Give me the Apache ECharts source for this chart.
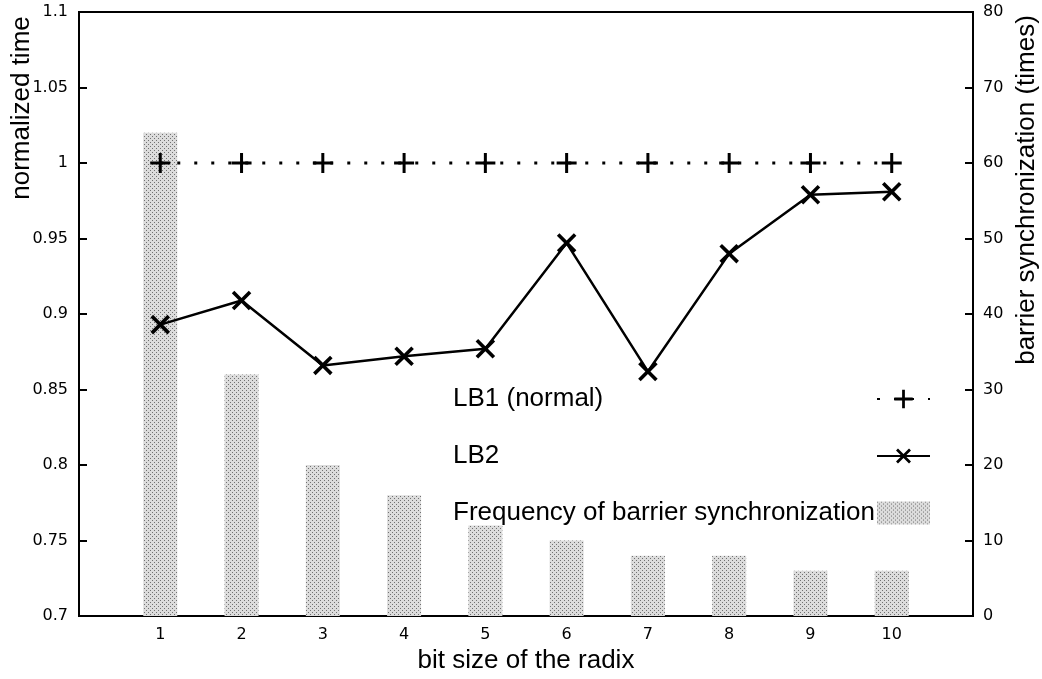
<!DOCTYPE html>
<html>
<head>
<meta charset="utf-8">
<script src="https://cdn.jsdelivr.net/npm/echarts@6/dist/echarts.min.js"></script>
<style>
  html, body { margin: 0; padding: 0; background: #fff; }
  #chart { width: 1042px; height: 679px; }
</style>
</head>
<body>
<div id="chart"></div>
<script>
// bit size of the radix
const radix = [1, 2, 3, 4, 5, 6, 7, 8, 9, 10];
const lb1 = [1, 1, 1, 1, 1, 1, 1, 1, 1, 1];
const lb2 = [0.893, 0.909, 0.866, 0.872, 0.877, 0.947, 0.862, 0.940, 0.979, 0.981];
const barrierFreq = [64, 32, 20, 16, 12, 10, 8, 8, 6, 6];

// stipple pattern for the bars
function makeStipple() {
  const c = document.createElement('canvas');
  c.width = 4; c.height = 4;
  const g = c.getContext('2d');
  g.fillStyle = '#dcdcdc';
  g.fillRect(0, 0, 4, 4);
  g.fillStyle = '#707070';
  g.fillRect(0, 0, 1, 1);
  g.fillRect(2, 2, 1, 1);
  return c;
}
const stipple = { image: makeStipple(), repeat: 'repeat' };

const plusPath = 'path://M8.5,0h3v8.5h8.5v3h-8.5v8.5h-3v-8.5h-8.5v-3h8.5z';
const titleFont = 'Liberation Sans';
const tickFont = 'DejaVu Sans';

const chart = echarts.init(document.getElementById('chart'));

const option = {
  animation: false,
  textStyle: { fontFamily: titleFont },
  grid: {
    left: 79, right: 69, top: 12, bottom: 59,
    show: true, borderColor: '#000', borderWidth: 2
  },
  legend: {
    orient: 'vertical',
    left: 453,
    top: 386,
    padding: 0,
    align: 'right',
    itemGap: 31,
    itemWidth: 53,
    itemHeight: 23,
    selectedMode: false,
    formatter: name => '{t|' + name + '}',
    textStyle: {
      fontFamily: titleFont, fontSize: 26, color: '#000',
      rich: {
        t: { width: 419, height: 28, align: 'left', fontSize: 26, fontFamily: titleFont, color: '#000' }
      }
    },
    data: [
      { name: 'LB1 (normal)' },
      { name: 'LB2' },
      { name: 'Frequency of barrier synchronization', icon: 'rect' }
    ]
  },
  xAxis: {
    type: 'value',
    min: 0, max: 11, interval: 1,
    name: 'bit size of the radix',
    nameLocation: 'middle',
    nameGap: 28,
    nameTextStyle: { fontFamily: titleFont, fontSize: 26, color: '#000', verticalAlign: 'top' },
    axisLine: { lineStyle: { color: '#000', width: 2 } },
    axisTick: { inside: true, length: 8, lineStyle: { color: '#000', width: 2 } },
    axisLabel: {
      color: '#000', fontSize: 16, fontFamily: tickFont, margin: 11,
      formatter: v => (v >= 1 && v <= 10 ? String(v) : '')
    },
    splitLine: { show: false }
  },
  yAxis: [
    {
      type: 'value',
      min: 0.7, max: 1.1, interval: 0.05,
      axisLine: { show: true, lineStyle: { color: '#000', width: 2 } },
      axisTick: { inside: true, length: 8, lineStyle: { color: '#000', width: 2 } },
      axisLabel: {
        color: '#000', fontSize: 16, fontFamily: tickFont, margin: 11,
        formatter: v => String(+v.toFixed(2))
      },
      splitLine: { show: false }
    },
    {
      type: 'value',
      min: 0, max: 80, interval: 10,
      axisLine: { show: true, lineStyle: { color: '#000', width: 2 } },
      axisTick: { inside: true, length: 8, lineStyle: { color: '#000', width: 2 } },
      axisLabel: { color: '#000', fontSize: 16, fontFamily: tickFont, margin: 10 },
      splitLine: { show: false }
    }
  ],
  graphic: [
    {
      type: 'text', x: 22, y: 108, rotation: Math.PI / 2,
      style: {
        text: 'normalized time', font: '26px "Liberation Sans"', fill: '#000',
        align: 'center', verticalAlign: 'middle'
      }
    },
    {
      type: 'text', x: 1027, y: 190, rotation: Math.PI / 2,
      style: {
        text: 'barrier synchronization (times)', font: '26px "Liberation Sans"', fill: '#000',
        align: 'center', verticalAlign: 'middle'
      }
    }
  ],
  series: [
    {
      name: 'Frequency of barrier synchronization',
      type: 'bar',
      yAxisIndex: 1,
      barWidth: 34,
      itemStyle: { color: stipple },
      z: 1,
      data: radix.map((x, i) => [x, barrierFreq[i]])
    },
    {
      name: 'LB1 (normal)',
      type: 'line',
      yAxisIndex: 0,
      symbol: plusPath,
      symbolSize: 20,
      symbolKeepAspect: true,
      itemStyle: { color: '#000' },
      lineStyle: { color: '#000', width: 3, type: [3, 14] },
      z: 3,
      data: radix.map((x, i) => [x, lb1[i]])
    },
    {
      name: 'LB2',
      type: 'line',
      yAxisIndex: 0,
      symbol: plusPath,
      symbolSize: 24,
      symbolRotate: 45,
      symbolKeepAspect: true,
      itemStyle: { color: '#000' },
      lineStyle: { color: '#000', width: 2.5 },
      z: 3,
      data: radix.map((x, i) => [x, lb2[i]])
    }
  ]
};

chart.setOption(option);
</script>
</body>
</html>
